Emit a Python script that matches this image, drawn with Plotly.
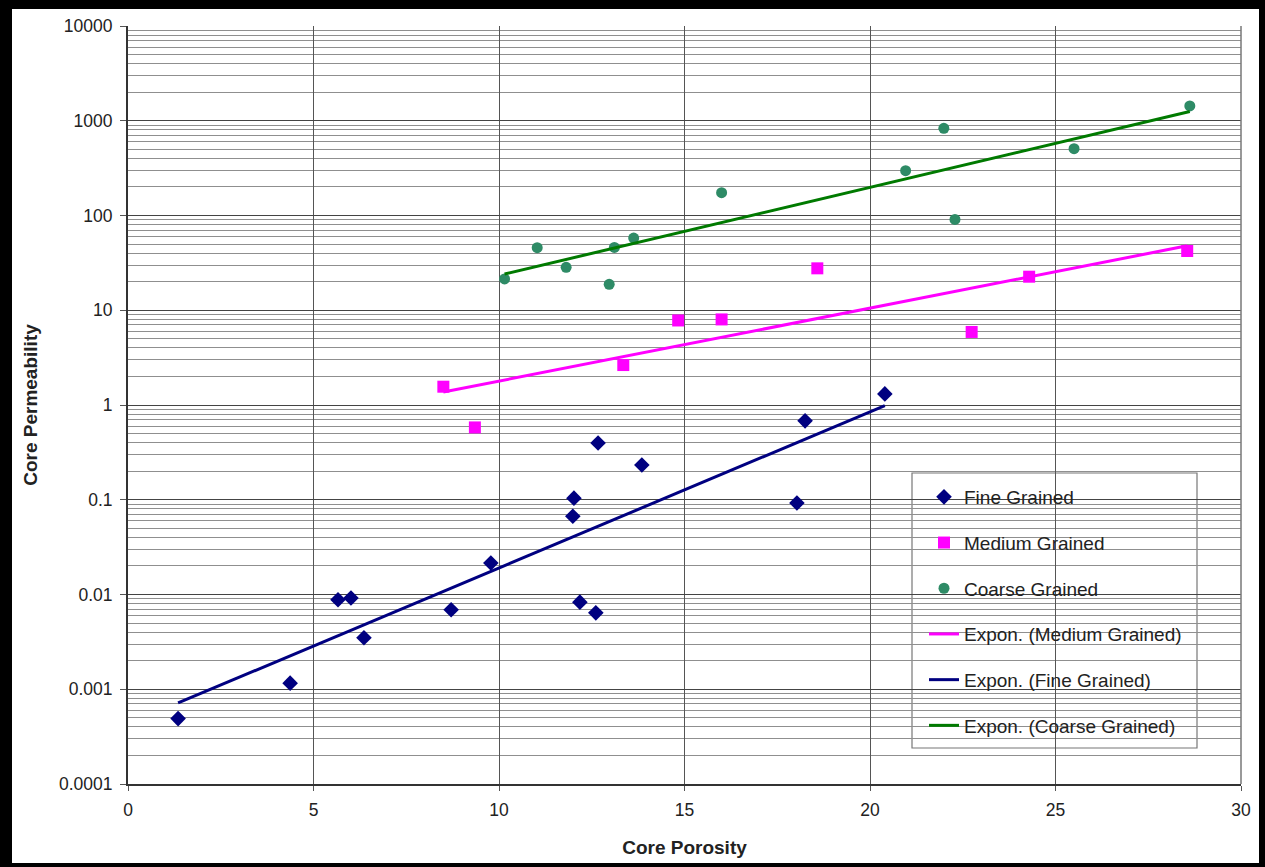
import numpy as np
import plotly.graph_objects as go

# ---- data ----
fine_x = [1.35, 4.37, 5.66, 6.01, 6.36, 8.71, 9.78, 11.99, 12.02, 12.18, 12.61, 12.67, 13.85, 18.03, 18.25, 20.40]
fine_y = [0.00049, 0.00116, 0.0088, 0.0092, 0.0035, 0.0069, 0.0215, 0.067, 0.104, 0.0083, 0.0064, 0.397, 0.233, 0.0925, 0.68, 1.31]

medium_x = [8.50, 9.35, 13.35, 14.83, 16.00, 18.58, 22.74, 24.29, 28.55]
medium_y = [1.56, 0.58, 2.64, 7.8, 8.0, 27.7, 5.9, 22.6, 42.2]

coarse_x = [10.15, 11.03, 11.81, 12.97, 13.11, 13.63, 16.00, 20.96, 21.99, 22.29, 25.50, 28.62]
coarse_y = [21.4, 45.7, 28.4, 18.8, 46.0, 57.8, 174, 297, 832, 91, 507, 1432]

y_tickvals = [0.0001, 0.001, 0.01, 0.1, 1, 10, 100, 1000, 10000]
y_ticktext = ["0.0001", "0.001", "0.01", "0.1", "1", "10", "100", "1000", "10000"]

FONT = "Arial, Liberation Sans, sans-serif"


def expon_fit(xs, ys):
    xs = np.asarray(xs, float)
    ys = np.asarray(ys, float)
    b, a = np.polyfit(xs, np.log(ys), 1)
    xx = np.linspace(xs.min(), xs.max(), 60)
    return xx, np.exp(a + b * xx)


fig = go.Figure()

fig.add_trace(go.Scatter(x=fine_x, y=fine_y, mode="markers", name="Fine Grained",
                         legendgroup="a",
                         marker=dict(symbol="diamond", size=12, color="#000080")))
fig.add_trace(go.Scatter(x=medium_x, y=medium_y, mode="markers", name="Medium Grained",
                         legendgroup="b",
                         marker=dict(symbol="square", size=12, color="#FF00FF")))
fig.add_trace(go.Scatter(x=coarse_x, y=coarse_y, mode="markers", name="Coarse Grained",
                         legendgroup="c",
                         marker=dict(symbol="circle", size=11, color="#2E8B66")))

mx, my = expon_fit(medium_x, medium_y)
fx, fy = expon_fit(fine_x, fine_y)
cx, cy = expon_fit(coarse_x, coarse_y)

fig.add_trace(go.Scatter(x=mx, y=my, mode="lines", name="Expon. (Medium Grained)",
                         legendgroup="d", line=dict(color="#FF00FF", width=3)))
fig.add_trace(go.Scatter(x=fx, y=fy, mode="lines", name="Expon. (Fine Grained)",
                         legendgroup="e", line=dict(color="#000080", width=3)))
fig.add_trace(go.Scatter(x=cx, y=cy, mode="lines", name="Expon. (Coarse Grained)",
                         legendgroup="f", line=dict(color="#007A00", width=3)))

W, H = 1265, 867
L, R, T, B = 128, 24, 26, 83
pw, ph = W - L - R, H - T - B


def px2paper_x(px):
    return (px - L) / pw


def px2paper_y(py):
    return (H - B - py) / ph


shapes = []
# outer black frame
for (x0, y0, x1, y1) in [(0, 0, 12, H), (0, 0, W, 9), (1259, 0, W, H), (0, 863, W, H)]:
    shapes.append(dict(type="rect", xref="paper", yref="paper",
                       x0=px2paper_x(x0), x1=px2paper_x(x1),
                       y0=px2paper_y(y1), y1=px2paper_y(y0),
                       fillcolor="black", line=dict(width=0), layer="above"))
# legend box
shapes.append(dict(type="rect", xref="paper", yref="paper",
                   x0=px2paper_x(912), x1=px2paper_x(1197),
                   y0=px2paper_y(748), y1=px2paper_y(473),
                   fillcolor="white", line=dict(color="#777777", width=1.2), layer="below"))

fig.update_layout(
    width=W, height=H,
    margin=dict(l=L, r=R, t=T, b=B),
    paper_bgcolor="white", plot_bgcolor="white",
    font=dict(family=FONT, size=17, color="#222222"),
    showlegend=True,
    legend=dict(x=px2paper_x(924), y=px2paper_y(478), xanchor="left", yanchor="top",
                bgcolor="rgba(0,0,0,0)", borderwidth=0,
                traceorder="grouped", tracegroupgap=18,
                font=dict(family=FONT, size=19, color="#222222")),
    shapes=shapes,
)

fig.update_xaxes(
    range=[0, 30], dtick=5, tick0=0,
    showgrid=True, gridcolor="#555555", gridwidth=1,
    zeroline=False,
    showline=True, linecolor="#333333", linewidth=2, mirror=False,
    ticks="outside", ticklen=5, tickcolor="#555555",
    ticklabelstandoff=4,
    tickfont=dict(family=FONT, size=17.5, color="#222222"),
    title=dict(text="<b>Core Porosity</b>", standoff=22,
               font=dict(family=FONT, size=19, color="#222222")),
)

fig.update_yaxes(
    type="log", range=[-4, 4],
    tickvals=y_tickvals, ticktext=y_ticktext,
    showgrid=True, gridcolor="#444444", gridwidth=1.4,
    minor=dict(showgrid=True, gridcolor="#8f8f8f", gridwidth=1, dtick="D1", ticks=""),
    zeroline=False,
    showline=True, linecolor="#333333", linewidth=2,
    ticks="outside", ticklen=6, tickcolor="#555555",
    ticklabelstandoff=4,
    tickfont=dict(family=FONT, size=17.5, color="#222222"),
    title=dict(text="<b>Core Permeability</b>", standoff=16,
               font=dict(family=FONT, size=19, color="#222222")),
)

# right-hand border of plot area
fig.add_shape(type="line", xref="paper", yref="paper", x0=1, x1=1, y0=0, y1=1,
              line=dict(color="#777777", width=1.5))

fig.write_html("out.html",
               config={"displayModeBar": False},
               post_script="document.body.style.margin='0px';document.body.style.overflow='hidden';")
